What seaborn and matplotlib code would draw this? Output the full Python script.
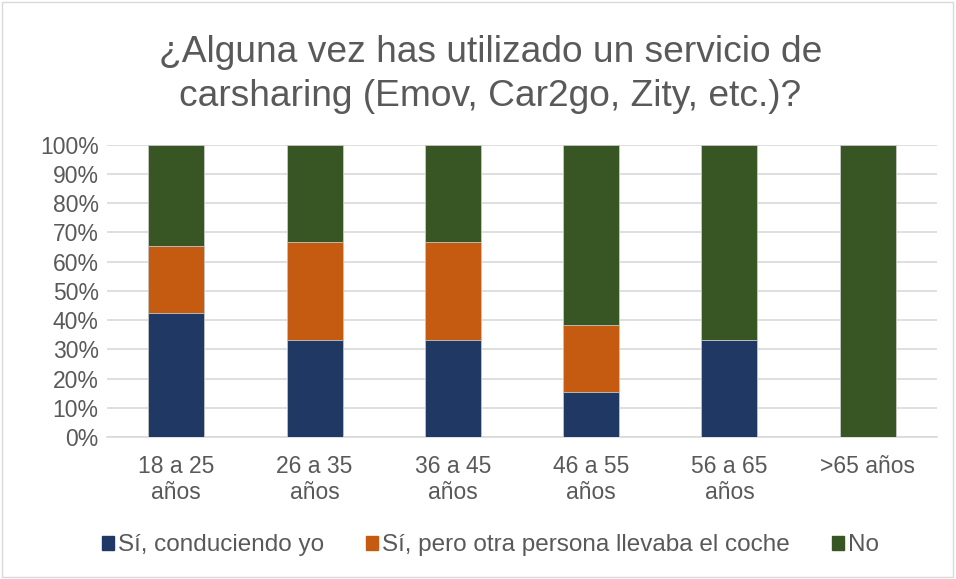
import numpy as np
import pandas as pd
import seaborn as sns
import matplotlib.pyplot as plt
from matplotlib.patches import Rectangle

grupos = ["18 a 25\naños", "26 a 35\naños", "36 a 45\naños", "46 a 55\naños", "56 a 65\naños", ">65 años"]
conduciendo = [42.3, 33.3, 33.3, 15.4, 33.3, 0.0]
otra_persona = [23.1, 33.4, 33.4, 23.1, 0.0, 0.0]
no = [34.6, 33.3, 33.3, 61.5, 66.7, 100.0]
series = ["Sí, conduciendo yo", "Sí, pero otra persona llevaba el coche", "No"]
colores = ["#1F3864", "#C55A11", "#375623"]

sns.set_theme(style="white")
plt.rcParams['font.family'] = ['Liberation Sans', 'DejaVu Sans']

fig = plt.figure(figsize=(9.56, 5.79), dpi=100)
ax = fig.add_axes([0.112, 0.245, 0.868, 0.505])

df = pd.DataFrame({"grupo": grupos, "c": conduciendo, "o": otra_persona, "n": no})
df["cum1"] = df["c"]
df["cum2"] = df["c"] + df["o"]
df["cum3"] = df["c"] + df["o"] + df["n"]

# stacked: draw the cumulative totals, biggest first
for col, color in zip(["cum3", "cum2", "cum1"], colores[::-1]):
    sns.barplot(data=df, x="grupo", y=col, color=color, width=0.405, saturation=1,
                edgecolor="#c8c8c8", linewidth=0.6, ax=ax, zorder=3)

ax.set_ylim(0, 100)
ax.set_xlim(-0.5, 5.5)
ax.set_yticks(np.arange(0, 101, 10))
ax.set_yticklabels([f"{v}%" for v in range(0, 101, 10)])
ax.yaxis.grid(True, color="#d9d9d9", linewidth=1.2, zorder=0)
ax.set_axisbelow(True)
for s in ["top", "right", "left"]:
    ax.spines[s].set_visible(False)
ax.spines["bottom"].set_color("#d9d9d9")
ax.spines["bottom"].set_linewidth(1.2)
ax.tick_params(axis="both", colors="#595959", labelsize=16.5, length=0)
ax.tick_params(axis="y", pad=6)
ax.tick_params(axis="x", pad=13)
for t in ax.get_xticklabels():
    t.set_linespacing(1.15)
ax.set_xlabel("")
ax.set_ylabel("")

fig.suptitle("¿Alguna vez has utilizado un servicio de\ncarsharing (Emov, Car2go, Zity, etc.)?",
             x=0.513, y=0.872, va="center", fontsize=26.7, color="#595959", linespacing=1.33)

handles = [Rectangle((0, 0), 1, 1, color=c) for c in colores]
fig.legend(handles, series, loc="center", bbox_to_anchor=(0.513, 0.058), ncol=3,
           frameon=False, fontsize=17.5, labelcolor="#595959",
           handlelength=0.5, handleheight=0.5, handletextpad=0.15, columnspacing=1.75)

fig.patches.append(Rectangle((0.002, 0.003), 0.995, 0.994, transform=fig.transFigure,
                             fill=False, edgecolor="#d9d9d9", linewidth=1))

fig.savefig("out.png", dpi=100)
